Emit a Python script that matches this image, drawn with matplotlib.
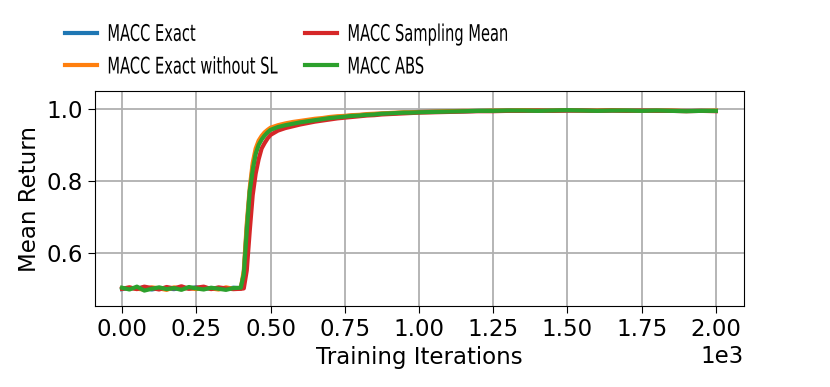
import matplotlib
matplotlib.use('Agg')
import matplotlib.pyplot as plt
from matplotlib.patheffects import AbstractPathEffect
from matplotlib.transforms import Affine2D, Bbox

# training iterations (shared x for all runs)
iters = [0, 25, 50, 75, 100, 125, 150, 175, 200, 225, 250, 275, 300, 325, 350, 375, 400,
         410, 420, 430, 440, 450, 460, 470, 480, 490, 500,
         525, 550, 575, 600, 625, 650, 675, 700, 725, 750, 775, 800, 825, 850, 875, 900,
         925, 950, 975, 1000,
         1050, 1100, 1150, 1200, 1250, 1300, 1350, 1400, 1450, 1500, 1550, 1600, 1650,
         1700, 1750, 1800, 1850, 1900, 1950, 2000]

macc_exact = [0.498, 0.501, 0.500, 0.503, 0.497, 0.501, 0.500, 0.498, 0.502, 0.500, 0.503, 0.499,
              0.501, 0.500, 0.498, 0.502, 0.500,
              0.54, 0.67, 0.77, 0.84, 0.88, 0.905, 0.920, 0.930, 0.938, 0.945,
              0.952, 0.957, 0.961, 0.964, 0.967, 0.970, 0.973, 0.976, 0.978, 0.980, 0.982,
              0.983, 0.985, 0.986, 0.987, 0.988, 0.989, 0.990, 0.991, 0.992,
              0.993, 0.994, 0.994, 0.995, 0.996, 0.996, 0.996, 0.995, 0.996, 0.996, 0.996,
              0.995, 0.996, 0.996, 0.995, 0.996, 0.995, 0.995, 0.995, 0.995]

macc_exact_no_sl = [0.500, 0.502, 0.499, 0.497, 0.503, 0.500, 0.496, 0.503, 0.499, 0.501, 0.498,
                    0.502, 0.500, 0.497, 0.503, 0.499, 0.500,
                    0.55, 0.68, 0.78, 0.85, 0.89, 0.912, 0.925, 0.935, 0.942, 0.948,
                    0.955, 0.960, 0.964, 0.967, 0.970, 0.973, 0.975, 0.978, 0.980, 0.981, 0.983,
                    0.984, 0.986, 0.987, 0.988, 0.989, 0.990, 0.991, 0.991, 0.992,
                    0.993, 0.994, 0.995, 0.995, 0.996, 0.996, 0.997, 0.996, 0.996, 0.997, 0.996,
                    0.996, 0.997, 0.996, 0.995, 0.996, 0.996, 0.995, 0.995, 0.996]

macc_sampling_mean = [0.499, 0.503, 0.498, 0.505, 0.501, 0.497, 0.504, 0.500, 0.506, 0.499, 0.502,
                      0.505, 0.498, 0.503, 0.500, 0.498, 0.499,
                      0.50, 0.55, 0.66, 0.76, 0.82, 0.86, 0.89, 0.905, 0.918, 0.928,
                      0.940, 0.947, 0.952, 0.957, 0.961, 0.965, 0.968, 0.971, 0.974, 0.976, 0.978,
                      0.980, 0.982, 0.983, 0.985, 0.986, 0.987, 0.988, 0.989, 0.990,
                      0.991, 0.992, 0.993, 0.994, 0.994, 0.995, 0.995, 0.996, 0.995, 0.996, 0.996,
                      0.995, 0.996, 0.995, 0.996, 0.995, 0.995, 0.994, 0.995, 0.994]

macc_abs = [0.502, 0.497, 0.505, 0.494, 0.499, 0.503, 0.498, 0.501, 0.496, 0.504, 0.500, 0.497,
            0.502, 0.499, 0.496, 0.501, 0.502,
            0.54, 0.66, 0.77, 0.83, 0.875, 0.900, 0.915, 0.926, 0.935, 0.942,
            0.950, 0.955, 0.959, 0.963, 0.966, 0.969, 0.972, 0.975, 0.977, 0.979, 0.981,
            0.982, 0.984, 0.985, 0.987, 0.988, 0.989, 0.990, 0.990, 0.991,
            0.992, 0.993, 0.994, 0.995, 0.995, 0.996, 0.996, 0.995, 0.996, 0.997, 0.996,
            0.995, 0.996, 0.996, 0.995, 0.996, 0.995, 0.994, 0.995, 0.995]

labels = ['MACC Exact', 'MACC Exact without SL', 'MACC Sampling Mean', 'MACC ABS']
colors = ['#1f77b4', '#ff7f0e', '#d62728', '#2ca02c']

SQUEEZE = 0.64


class Squeeze(AbstractPathEffect):
    # narrow the glyphs horizontally around the text origin
    def __init__(self, sx):
        super().__init__()
        self.sx = sx

    def draw_path(self, renderer, gc, tpath, affine, rgbFace=None):
        x0 = affine.transform([[0.0, 0.0]])[0][0]
        squeeze = Affine2D().translate(-x0, 0).scale(self.sx, 1.0).translate(x0, 0)
        renderer.draw_path(gc, tpath, affine + squeeze, rgbFace)


def squeeze_text(t, sx):
    t.set_path_effects([Squeeze(sx)])
    orig = t.get_window_extent

    def extent(renderer=None, dpi=None):
        bb = orig(renderer, dpi)
        return Bbox.from_extents(bb.x0, bb.y0, bb.x0 + bb.width * sx, bb.y1)
    t.get_window_extent = extent


plt.rcParams['font.size'] = 16.5

fig = plt.figure(figsize=(8.3, 3.87), dpi=100)
ax = fig.add_axes([0.1145, 0.2093, 0.782, 0.5543])

lines = []
for y, lab, c in zip([macc_exact, macc_exact_no_sl, macc_sampling_mean, macc_abs], labels, colors):
    ln, = ax.plot(iters, y, color=c, lw=3, label=lab)
    lines.append(ln)

ax.set_xlim(-91, 2095)
ax.set_ylim(0.451, 1.049)
ax.set_yticks([0.6, 0.8, 1.0])
ax.set_xticks([0, 250, 500, 750, 1000, 1250, 1500, 1750, 2000])
ax.ticklabel_format(axis='x', style='sci', scilimits=(0, 0))
ax.grid(True, color='#b0b0b0', lw=1.3)
ax.tick_params(length=5)
ax.set_xlabel('Training Iterations')
ax.set_ylabel('Mean Return')

leg_kw = dict(loc='center left', frameon=False, borderpad=0, borderaxespad=0,
              handlelength=1.4, handletextpad=0.45, labelspacing=0.42,
              bbox_transform=fig.transFigure)
leg1 = fig.legend(lines[:2], labels[:2], bbox_to_anchor=(0.0783, 0.869), **leg_kw)
leg2 = fig.legend(lines[2:], labels[2:], bbox_to_anchor=(0.3675, 0.869), **leg_kw)
for leg in (leg1, leg2):
    for t in leg.get_texts():
        squeeze_text(t, SQUEEZE)

fig.savefig('out.png', dpi=100)
